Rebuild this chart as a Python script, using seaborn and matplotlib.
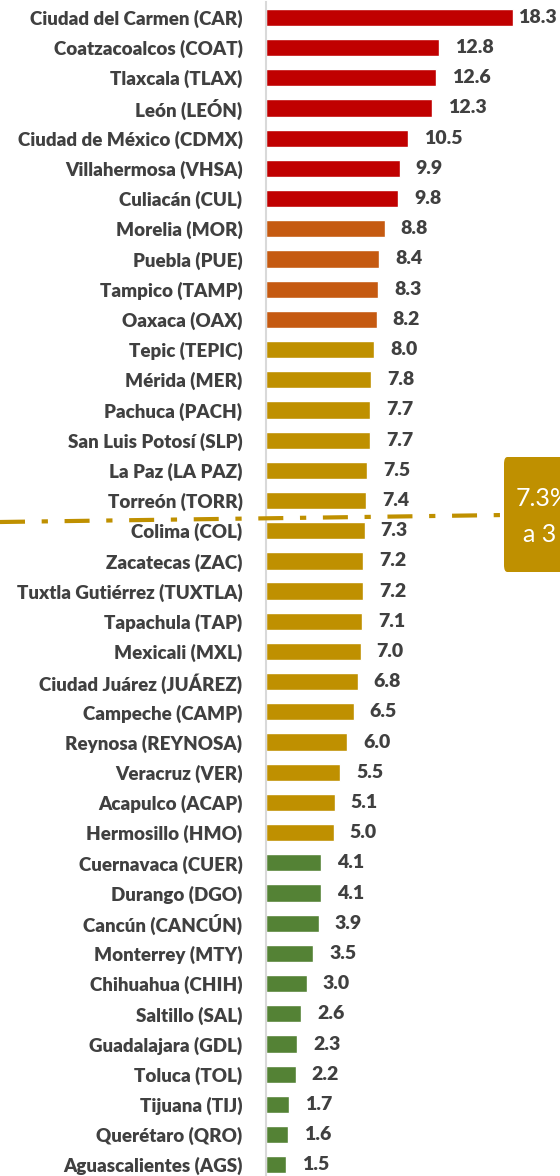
import matplotlib.pyplot as plt
import pandas as pd
import seaborn as sns
from matplotlib.patches import FancyBboxPatch
from matplotlib.lines import Line2D

cities = [
    "Ciudad del Carmen (CAR)", "Coatzacoalcos (COAT)", "Tlaxcala (TLAX)", "León (LEÓN)",
    "Ciudad de México (CDMX)", "Villahermosa (VHSA)", "Culiacán (CUL)", "Morelia (MOR)",
    "Puebla (PUE)", "Tampico (TAMP)", "Oaxaca (OAX)", "Tepic (TEPIC)", "Mérida (MER)",
    "Pachuca (PACH)", "San Luis Potosí (SLP)", "La Paz (LA PAZ)", "Torreón (TORR)",
    "Colima (COL)", "Zacatecas (ZAC)", "Tuxtla Gutiérrez (TUXTLA)", "Tapachula (TAP)",
    "Mexicali (MXL)", "Ciudad Juárez (JUÁREZ)", "Campeche (CAMP)", "Reynosa (REYNOSA)",
    "Veracruz (VER)", "Acapulco (ACAP)", "Hermosillo (HMO)", "Cuernavaca (CUER)",
    "Durango (DGO)", "Cancún (CANCÚN)", "Monterrey (MTY)", "Chihuahua (CHIH)",
    "Saltillo (SAL)", "Guadalajara (GDL)", "Toluca (TOL)", "Tijuana (TIJ)",
    "Querétaro (QRO)", "Aguascalientes (AGS)",
]
values = [
    18.3, 12.8, 12.6, 12.3, 10.5, 9.9, 9.8, 8.8, 8.4, 8.3, 8.2, 8.0, 7.8, 7.7, 7.7,
    7.5, 7.4, 7.3, 7.2, 7.2, 7.1, 7.0, 6.8, 6.5, 6.0, 5.5, 5.1, 5.0, 4.1, 4.1, 3.9,
    3.5, 3.0, 2.6, 2.3, 2.2, 1.7, 1.6, 1.5,
]
groups = ["alto"] * 7 + ["medio"] * 4 + ["bajo"] * 17 + ["minimo"] * 11
group_colors = {"alto": "#C00000", "medio": "#C55A11", "bajo": "#BF9000", "minimo": "#548235"}
box_lines = ["7.3%", "a 3"]

df = pd.DataFrame({"ciudad": cities, "valor": values, "grupo": groups})

sns.set_theme(style="white")
plt.rcParams["font.family"] = ["Lato", "DejaVu Sans"]
text_color = "#404040"

fig = plt.figure(figsize=(5.6, 11.76), dpi=100)
ax = fig.add_axes([266 / 560, -3.9 / 1176, 294 / 560, (1176 + 3.9 - 2.3) / 1176])

sns.barplot(data=df, x="valor", y="ciudad", hue="grupo", palette=group_colors,
            width=0.57, dodge=False, legend=False, ax=ax, saturation=1)

px_per_unit = 13.5
xmax = 294 / px_per_unit
ax.set_xlim(0, xmax)
ax.set_ylim(len(cities) - 0.5, -0.5)
ax.set_xlabel("")
ax.set_ylabel("")
ax.set_xticks([])
for s in ["top", "right", "bottom"]:
    ax.spines[s].set_visible(False)
ax.spines["left"].set_color("#D9D9D9")
ax.spines["left"].set_linewidth(1.5)
ax.tick_params(axis="y", length=0, pad=17)
for lab in ax.get_yticklabels():
    lab.set_fontweight("heavy")
    lab.set_fontsize(13.5)
    lab.set_color(text_color)

for i, v in enumerate(values):
    x = min(v + 16 / px_per_unit, xmax - 42 / px_per_unit)
    ax.text(x, i, f"{v:.1f}", va="center", ha="left", fontsize=14,
            fontweight="heavy", color=text_color)

# dash-dot reference line and callout box
fig.add_artist(Line2D([0, 505 / 560], [1 - 522 / 1176, 1 - 515 / 1176],
                      transform=fig.transFigure, color="#BF9000", lw=3,
                      linestyle=(0, (6, 4, 1.5, 4))))
box = FancyBboxPatch((504 / 560, 1 - 572 / 1176), 80 / 560, 115 / 1176,
                     boxstyle="round,pad=0,rounding_size=0.006",
                     transform=fig.transFigure, facecolor="#BF9000",
                     edgecolor="none")
fig.add_artist(box)
fig.text(516 / 560, 1 - 499 / 1176, box_lines[0], color="white", fontsize=18,
         va="center", ha="left")
fig.text(523 / 560, 1 - 535 / 1176, box_lines[1], color="white", fontsize=18,
         va="center", ha="left")

fig.savefig("out.png", dpi=100)
